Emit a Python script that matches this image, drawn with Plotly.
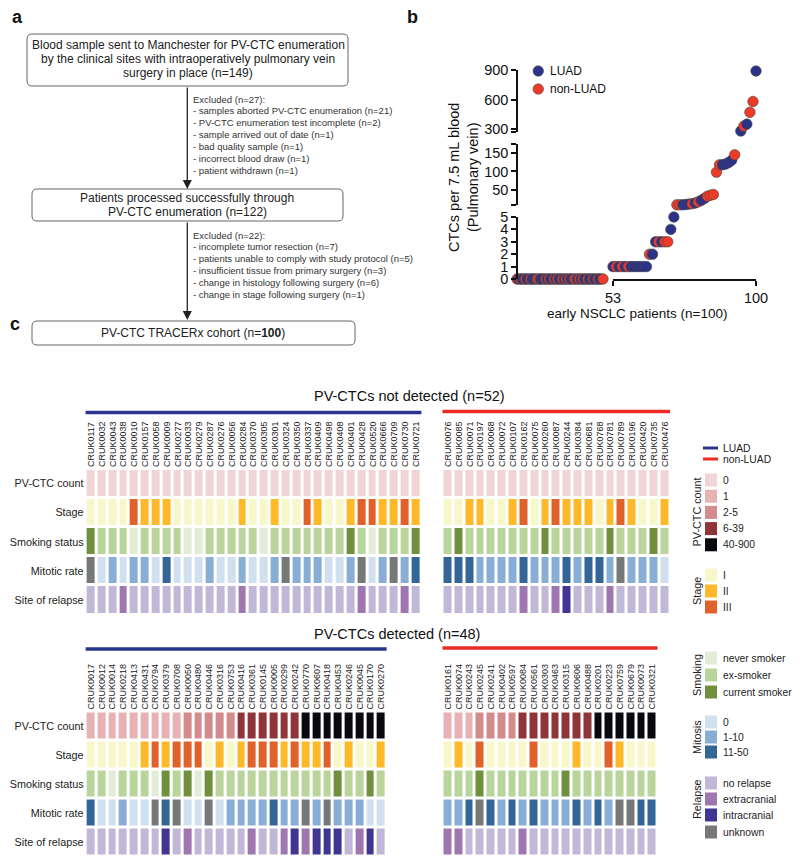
import plotly.graph_objects as go

W, H = 800, 863
OFF = 8  # the page body keeps its default 8px margin
FONT = "Arial, Liberation Sans, sans-serif"


def fx(px):
    return (px - OFF) / W


def fy(py):
    return 1 - (py - OFF) / H


# ---------------- Panel b data ----------------
ctc_rank = list(range(1, 101))
ctc_count = [0, 0, 0, 0, 0, 0, 0, 0, 0, 0, 0, 0, 0, 0, 0, 0, 0, 0, 0, 0,
             0, 0, 0, 0, 0, 0, 0, 0, 0, 0, 0, 0, 0, 0, 0, 0, 0, 0, 0, 0,
             0, 0, 0, 0, 0, 0, 0, 0, 0, 0, 0, 0,
             1, 1, 1, 1, 1, 1, 1, 1, 1, 1, 1, 1,
             2, 2, 3, 3, 3, 3, 3, 4, 5,
             10, 10, 10, 11, 12, 13, 15, 18, 22, 27, 33, 36, 38,
             98, 118, 118, 120, 124, 130, 145, 175, 280, 330, 350, 470, 580, 890]
ctc_histology = list("RBRBBRBBRB" "BBRRBBBRBR" "BBRBRBBRBR" "BRBBRRBRBR" "BBRBBRBBRB" "BR"
                     "BRBRBRBBBBBB" "RBBRBRRBB" "RRBBBRBRBBRRR" "RRBBBBRBBRBRRB")
hist_color = {"B": "#2B3288", "R": "#EE3A29"}
hist_name = {"B": "LUAD", "R": "non-LUAD"}

# ---------------- Panel c data ----------------
row_names = ["PV-CTC count", "Stage", "Smoking status", "Mitotic rate", "Site of relapse"]

nd_luad_ids = ("0117 0032 0043 0038 0010 0157 0058 0009 0277 0033 0279 0287 0276 0056 0284 0370 "
               "0305 0301 0324 0350 0337 0409 0498 0408 0401 0428 0520 0666 0709 0730 0721").split()
nd_luad_count = ("0 0 0 0 0 0 0 0 0 0 0 0 0 0 0 0 0 0 0 0 0 0 0 0 0 0 0 0 0 0 0").split()
nd_luad_stage = ("I I I I III II II II I I I I I I II I I II I I III II I I II III III II II III II").split()
nd_luad_smoking = ("current ex ex ex never ex ex ex ex never never ex ex ex ex ex never ex ex ex ex ex "
                   "ex ex current ex never ex ex ex current").split()
nd_luad_mitosis = ("unk 0 1-10 0 1-10 1-10 0 11-50 0 0 0 1-10 0 0 1-10 0 0 1-10 unk 1-10 1-10 1-10 "
                   "0 0 1-10 unk 0 1-10 unk 1-10 11-50").split()
nd_luad_relapse = ("no no no extra no no no no no no no no no no extra no no no no no no no no no no "
                   "extra no no no extra no").split()

nd_non_ids = ("0076 0085 0071 0197 0068 0072 0107 0162 0075 0260 0087 0244 0384 0681 0768 0781 "
              "0789 0196 0420 0735 0476").split()
nd_non_count = ("0 0 0 0 0 0 0 0 0 0 0 0 0 0 0 0 0 0 0 0 0").split()
nd_non_stage = ("I I II II I I II III I II III II II II I II III II I I II").split()
nd_non_smoking = ("ex current ex ex ex ex ex ex ex current ex ex ex ex ex current ex ex ex current ex").split()
nd_non_mitosis = ("11-50 11-50 11-50 1-10 1-10 1-10 1-10 11-50 1-10 1-10 1-10 11-50 1-10 11-50 11-50 "
                  "1-10 unk 1-10 1-10 1-10 0").split()
nd_non_relapse = ("no no no no no no no extra no no extra intra no no no extra no no no no no").split()

d_luad_ids = ("0017 0012 0014 0218 0413 0431 0794 0379 0708 0050 0480 0446 0316 0753 0416 0361 "
              "0145 0005 0299 0242 0770 0607 0418 0453 0246 0045 0170 0270").split()
d_luad_count = ("1 1 1 1 1 1 1 1 1 2-5 2-5 2-5 2-5 2-5 6-39 6-39 6-39 6-39 6-39 6-39 "
                "40-900 40-900 40-900 40-900 40-900 40-900 40-900 40-900").split()
d_luad_stage = ("I I I I I II III II III III III I II I II III III III II III II II III I II I I II").split()
d_luad_smoking = ("ex ex never ex ex ex never current ex current never current ex ex ex ex ex ex ex "
                  "ex ex ex ex current ex ex current ex").split()
d_luad_mitosis = ("11-50 0 0 1-10 0 0 unk 11-50 unk 0 0 unk 0 1-10 1-10 1-10 1-10 11-50 1-10 1-10 "
                  "unk 1-10 unk 1-10 1-10 1-10 0 0").split()
d_luad_relapse = ("no no no no no no no intra no extra no no no no no extra no no extra intra extra "
                  "intra intra intra no extra intra no").split()

d_non_ids = ("0161 0074 0243 0245 0241 0402 0597 0084 0561 0303 0463 0315 0606 0488 0201 0223 "
             "0759 0679 0073 0321").split()
d_non_count = ("1 1 1 2-5 2-5 2-5 2-5 6-39 6-39 6-39 6-39 6-39 6-39 6-39 "
               "40-900 40-900 40-900 40-900 40-900 40-900").split()
d_non_stage = ("I II I III I I I I III I I I II I I III II I I I").split()
d_non_smoking = ("ex ex ex current ex ex ex ex ex ex ex current ex ex ex ex ex ex ex ex").split()
d_non_mitosis = ("1-10 1-10 11-50 unk 11-50 1-10 11-50 1-10 11-50 1-10 1-10 1-10 11-50 1-10 11-50 "
                 "1-10 unk unk 11-50 11-50").split()
d_non_relapse = ("extra extra no no no no no extra no no no no no no no no no no no no").split()

# category colours
cat_keys = [("count", "0"), ("count", "1"), ("count", "2-5"), ("count", "6-39"), ("count", "40-900"),
            ("stage", "I"), ("stage", "II"), ("stage", "III"),
            ("smoking", "never"), ("smoking", "ex"), ("smoking", "current"),
            ("mitosis", "0"), ("mitosis", "1-10"), ("mitosis", "11-50"),
            ("relapse", "no"), ("relapse", "extra"), ("relapse", "intra"),
            ("any", "unk")]
cat_colors = ["#F1D5D6", "#E6B2B3", "#D48B8D", "#8F3439", "#09080F",
              "#F8F7CA", "#FDB92A", "#E1612A",
              "#E3ECD7", "#B9D59C", "#71903E",
              "#D1E0EE", "#88AED6", "#336597",
              "#C1B7D7", "#9F77B0", "#413594",
              "#767878"]
cat_index = {k: i for i, k in enumerate(cat_keys)}
NC = len(cat_keys)
colorscale = []
for i, c in enumerate(cat_colors):
    colorscale.append([i / NC, c])
    colorscale.append([(i + 1) / NC, c])


def code(kind, v):
    if v == "unk":
        return cat_index[("any", "unk")]
    return cat_index[(kind, v)]


def block_z(count, stage, smoking, mitosis, relapse):
    return [[code("count", v) for v in count],
            [code("stage", v) for v in stage],
            [code("smoking", v) for v in smoking],
            [code("mitosis", v) for v in mitosis],
            [code("relapse", v) for v in relapse]]


fig = go.Figure()
layout = dict(width=W, height=H, margin=dict(l=0, r=0, t=0, b=0, pad=0, autoexpand=False),
              paper_bgcolor="white", plot_bgcolor="white",
              font=dict(family=FONT, color="#111"), showlegend=False)
shapes = []
annotations = []


def text(txt, x, y, size, xanchor="center", color="#222", angle=0):
    annotations.append(dict(text=txt, x=fx(x), y=fy(y), xref="paper", yref="paper",
                            xanchor=xanchor, yanchor="middle", showarrow=False, textangle=angle,
                            font=dict(size=size, family=FONT, color=color)))


# ---------------- Panel b ----------------
segs = {"zero": ([], [], []), "low": ([], [], []), "mid": ([], [], []), "high": ([], [], [])}
for r, v, h in zip(ctc_rank, ctc_count, ctc_histology):
    if v == 0:
        s = "zero"
    elif v <= 5:
        s = "low"
    elif v < 200:
        s = "mid"
    else:
        s = "high"
    segs[s][0].append(r)
    segs[s][1].append(v)
    segs[s][2].append(h)
seg_axes = {"zero": ("x", "y"), "low": ("x2", "y"), "mid": ("x2", "y2"), "high": ("x2", "y3")}
for s, (xs, ys, hs) in segs.items():
    xa, ya = seg_axes[s]
    fig.add_trace(go.Scatter(x=xs, y=ys, mode="markers", xaxis=xa, yaxis=ya, cliponaxis=False,
                             text=[hist_name[h] for h in hs],
                             marker=dict(size=10.5, color=[hist_color[h] for h in hs],
                                         line=dict(width=0.6, color="#444")),
                             hovertemplate="%{text}: %{y}<extra></extra>"))

axis_common = dict(showgrid=False, zeroline=False, showline=True, linecolor="#111", linewidth=1.5,
                   ticks="outside", ticklen=5, tickwidth=1.5, tickcolor="#111", automargin=False,
                   tickfont=dict(size=14.5, family=FONT, color="#111"))
yaxis_x = fx(517)
layout["xaxis"] = dict(domain=[fx(517), fx(603)], range=[1, 52], visible=False, anchor="y")
layout["xaxis2"] = dict(domain=[fx(613), fx(756)], range=[53, 100], anchor="y",
                        tickvals=[53, 100], ticktext=["53", "100"], **axis_common)
layout["yaxis"] = dict(domain=[fy(279), fy(217)], range=[0, 5], anchor="free", position=yaxis_x,
                       tickvals=[0, 1, 2, 3, 4, 5], **axis_common)
layout["yaxis2"] = dict(domain=[fy(205), fy(144)], range=[9.5, 174], anchor="free", position=yaxis_x,
                        tickvals=[9.5, 50, 100, 150, 174], ticktext=["", "50", "100", "150", ""],
                        **axis_common)
layout["yaxis3"] = dict(domain=[fy(131.5), fy(70)], range=[275, 900], anchor="free", position=yaxis_x,
                        tickvals=[275, 300, 600, 900], ticktext=["", "300", "600", "900"], **axis_common)

text("CTCs per 7.5 mL blood<br>(Pulmonary vein)", 464, 177, 14.5, color="#111", angle=-90)
text("early NSCLC patients (n=100)", 637, 313, 13.5, color="#111")
for i, key in enumerate(["B", "R"]):
    cy = 71 + 18 * i
    shapes.append(dict(type="circle", xref="paper", yref="paper",
                       x0=fx(533), x1=fx(543.5), y0=fy(cy + 5.2), y1=fy(cy - 5.2),
                       fillcolor=hist_color[key], line=dict(color="#444", width=0.6)))
    text(hist_name[key], 548, cy, 12, xanchor="left", color="#111")

# ---------------- Panel c heatmaps ----------------
blocks = [
    (nd_luad_ids, block_z(nd_luad_count, nd_luad_stage, nd_luad_smoking, nd_luad_mitosis, nd_luad_relapse),
     (85.6, 421.4, 469, 614.5), True, "#2A3590", 412.5),
    (nd_non_ids, block_z(nd_non_count, nd_non_stage, nd_non_smoking, nd_non_mitosis, nd_non_relapse),
     (442.5, 670.0, 469, 614.5), False, "#EE2A24", 411.5),
    (d_luad_ids, block_z(d_luad_count, d_luad_stage, d_luad_smoking, d_luad_mitosis, d_luad_relapse),
     (85.6, 386.6, 711.5, 856.5), True, "#2A3590", 649),
    (d_non_ids, block_z(d_non_count, d_non_stage, d_non_smoking, d_non_mitosis, d_non_relapse),
     (442.5, 657.5, 711.5, 856.5), False, "#EE2A24", 648),
]
for bi, (ids, z, (x0, x1, y0, y1), show_rows, lcolor, ly) in enumerate(blocks):
    xa = "x%d" % (bi + 3)
    ya = "y%d" % (bi + 4)
    labels = ["CRUK" + s for s in ids]
    fig.add_trace(go.Heatmap(z=z, x=labels, y=row_names, xaxis=xa, yaxis=ya,
                             colorscale=colorscale, zmin=-0.5, zmax=NC - 0.5, showscale=False,
                             xgap=3, ygap=3, hoverinfo="x+y"))
    layout["xaxis%d" % (bi + 3)] = dict(domain=[fx(x0), fx(x1)], anchor=ya, side="top", type="category",
                                        tickmode="array", tickvals=labels, ticktext=labels,
                                        tickangle=-90, showgrid=False, zeroline=False, showline=False,
                                        ticks="", ticklabelstandoff=1, automargin=False,
                                        tickfont=dict(size=9, family=FONT, color="#222"))
    layout["yaxis%d" % (bi + 4)] = dict(domain=[fy(y1), fy(y0)], anchor=xa, autorange="reversed",
                                        type="category", showgrid=False, zeroline=False, showline=False,
                                        ticks="", showticklabels=show_rows, ticklabelstandoff=1,
                                        automargin=False,
                                        tickfont=dict(size=10.8, family=FONT, color="#222"))
    shapes.append(dict(type="line", xref="%s domain" % xa, yref="paper", x0=0, x1=1,
                       y0=fy(ly), y1=fy(ly), line=dict(color=lcolor, width=3.5)))

text("PV-CTCs not detected (n=52)", 410, 396, 14.5, color="#111")
text("PV-CTCs detected (n=48)", 397, 634, 14.5, color="#111")

# legend of panel c
LEG = 10.3
for i, (nm, col) in enumerate([("LUAD", "#2A3590"), ("non-LUAD", "#EE2A24")]):
    yy = 448 + 11 * i
    shapes.append(dict(type="line", xref="paper", yref="paper", x0=fx(703), x1=fx(718),
                       y0=fy(yy), y1=fy(yy), line=dict(color=col, width=3)))
    text(nm, 721, yy, LEG, xanchor="left")

legend_groups = [
    ("PV-CTC count", 480, 16.2, [("count", "0", "0"), ("count", "1", "1"), ("count", "2-5", "2-5"),
                                 ("count", "6-39", "6-39"), ("count", "40-900", "40-900")]),
    ("Stage", 575, 16, [("stage", "I", "I"), ("stage", "II", "II"), ("stage", "III", "III")]),
    ("Smoking", 658, 17, [("smoking", "never", "never smoker"), ("smoking", "ex", "ex-smoker"),
                          ("smoking", "current", "current smoker")]),
    ("Mitosis", 722, 15, [("mitosis", "0", "0"), ("mitosis", "1-10", "1-10"), ("mitosis", "11-50", "11-50")]),
    ("Relapse", 783, 16, [("relapse", "no", "no relapse"), ("relapse", "extra", "extracranial"),
                          ("relapse", "intra", "intracranial")]),
    ("", 832, 16, [("any", "unk", "unknown")]),
]
for title, y_start, pitch, items in legend_groups:
    for j, (kind, val, txt) in enumerate(items):
        yy = y_start + pitch * j
        shapes.append(dict(type="rect", xref="paper", yref="paper", x0=fx(705), x1=fx(717),
                           y0=fy(yy + 6.5), y1=fy(yy - 6.5), fillcolor=cat_colors[cat_index[(kind, val)]],
                           line=dict(width=0)))
        text(txt, 721, yy, LEG, xanchor="left")
    if title:
        mid = y_start + pitch * (len(items) - 1) / 2
        text(title, 697, mid, 10.8, angle=-90)

# ---------------- Panel a flowchart ----------------
def rrect(x0, y0, x1, y1, r=5):
    rx, ry = r / W, r / H
    X0, X1, Y0, Y1 = fx(x0), fx(x1), fy(y0), fy(y1)
    return (f"M{X0 + rx},{Y0} L{X1 - rx},{Y0} Q{X1},{Y0} {X1},{Y0 - ry} "
            f"L{X1},{Y1 + ry} Q{X1},{Y1} {X1 - rx},{Y1} L{X0 + rx},{Y1} Q{X0},{Y1} {X0},{Y1 + ry} "
            f"L{X0},{Y0 - ry} Q{X0},{Y0} {X0 + rx},{Y0} Z")


for (bx0, by0, bx1, by1) in [(27, 34, 348, 86), (32, 189, 343, 221), (32, 321, 355, 345)]:
    shapes.append(dict(type="path", xref="paper", yref="paper", path=rrect(bx0, by0, bx1, by1),
                       line=dict(color="#666", width=1), fillcolor="white"))

box_lines = [
    ("Blood sample sent to Manchester for PV-CTC enumeration", 188, 45),
    ("by the clinical sites with intraoperatively pulmonary vein", 188, 59),
    ("surgery in place (n=149)", 188, 73),
    ("Patients processed successfully through", 187, 198),
    ("PV-CTC enumeration (n=122)", 187, 212),
    ("PV-CTC TRACERx cohort (n=<b>100</b>)", 193, 333),
]
for txt, xx, yy in box_lines:
    text(txt, xx, yy, 12)

excl1 = ["Excluded (n=27):",
         "- samples aborted PV-CTC enumeration (n=21)",
         "- PV-CTC enumeration test incomplete (n=2)",
         "- sample arrived out of date (n=1)",
         "- bad quality sample (n=1)",
         "- incorrect blood draw (n=1)",
         "- patient withdrawn (n=1)"]
excl2 = ["Excluded (n=22):",
         "- incomplete tumor resection (n=7)",
         "- patients unable to comply with study protocol (n=5)",
         "- insufficient tissue from primary surgery (n=3)",
         "- change in histology following surgery (n=6)",
         "- change in stage following surgery (n=1)"]
for lines, y_start in [(excl1, 99), (excl2, 235)]:
    for k, txt in enumerate(lines):
        text(txt, 191, y_start + 11.9 * k, 9.5, xanchor="left", color="#333")

for (ytop, ytip) in [(86, 189), (221, 320)]:
    annotations.append(dict(text="", x=fx(187.3), y=fy(ytip), xref="paper", yref="paper",
                            showarrow=True, ax=0, ay=-(ytip - ytop), axref="pixel", ayref="pixel",
                            arrowhead=2, arrowsize=1.4, arrowwidth=1.3, arrowcolor="#222"))

# panel letters
for letter, xx, yy in [("a", 10, 17), ("b", 405, 17), ("c", 8, 324)]:
    text("<b>%s</b>" % letter, xx, yy, 18, xanchor="left", color="#111")

layout["shapes"] = shapes
layout["annotations"] = annotations
fig.update_layout(**layout)
fig.write_html("out.html")
